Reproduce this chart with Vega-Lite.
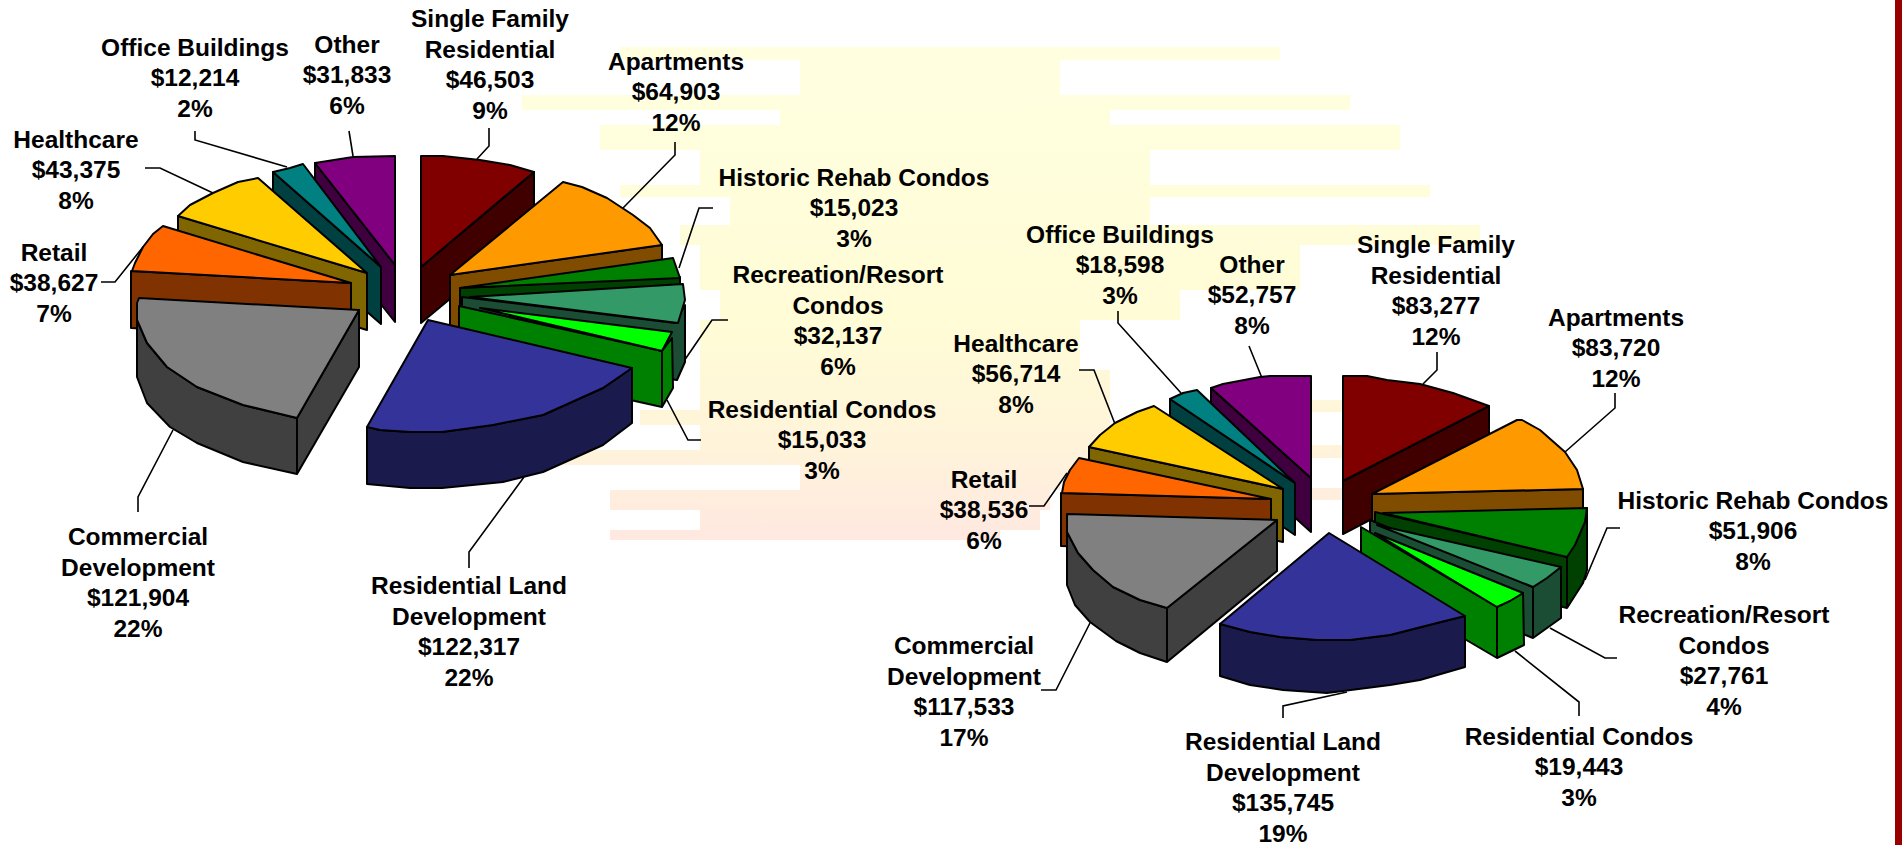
{
"$schema":"https://vega.github.io/schema/vega-lite/v6.json",
"width":1902,"height":845,"padding":0,"autosize":{"type":"none"},"background":"white","view":{"stroke":null},
"datasets":{
"decor":[{"pie":"Left","element":"Sun"},{"pie":"Left","element":"Edge"}],
"slices":[
{"pie":"Left","category":"Single Family Residential","amount":46503,"share":9,"label":"Single Family\nResidential\n$46,503\n9%"},
{"pie":"Left","category":"Apartments","amount":64903,"share":12,"label":"Apartments\n$64,903\n12%"},
{"pie":"Left","category":"Historic Rehab Condos","amount":15023,"share":3,"label":"Historic Rehab Condos\n$15,023\n3%"},
{"pie":"Left","category":"Recreation/Resort Condos","amount":32137,"share":6,"label":"Recreation/Resort\nCondos\n$32,137\n6%"},
{"pie":"Left","category":"Residential Condos","amount":15033,"share":3,"label":"Residential Condos\n$15,033\n3%"},
{"pie":"Left","category":"Other","amount":31833,"share":6,"label":"Other\n$31,833\n6%"},
{"pie":"Left","category":"Office Buildings","amount":12214,"share":2,"label":"Office Buildings\n$12,214\n2%"},
{"pie":"Left","category":"Healthcare","amount":43375,"share":8,"label":"Healthcare\n$43,375\n8%"},
{"pie":"Left","category":"Retail","amount":38627,"share":7,"label":"Retail\n$38,627\n7%"},
{"pie":"Left","category":"Commercial Development","amount":121904,"share":22,"label":"Commercial\nDevelopment\n$121,904\n22%"},
{"pie":"Left","category":"Residential Land Development","amount":122317,"share":22,"label":"Residential Land\nDevelopment\n$122,317\n22%"},
{"pie":"Right","category":"Single Family Residential","amount":83277,"share":12,"label":"Single Family\nResidential\n$83,277\n12%"},
{"pie":"Right","category":"Apartments","amount":83720,"share":12,"label":"Apartments\n$83,720\n12%"},
{"pie":"Right","category":"Historic Rehab Condos","amount":51906,"share":8,"label":"Historic Rehab Condos\n$51,906\n8%"},
{"pie":"Right","category":"Recreation/Resort Condos","amount":27761,"share":4,"label":"Recreation/Resort\nCondos\n$27,761\n4%"},
{"pie":"Right","category":"Residential Condos","amount":19443,"share":3,"label":"Residential Condos\n$19,443\n3%"},
{"pie":"Right","category":"Other","amount":52757,"share":8,"label":"Other\n$52,757\n8%"},
{"pie":"Right","category":"Office Buildings","amount":18598,"share":3,"label":"Office Buildings\n$18,598\n3%"},
{"pie":"Right","category":"Healthcare","amount":56714,"share":8,"label":"Healthcare\n$56,714\n8%"},
{"pie":"Right","category":"Retail","amount":38536,"share":6,"label":"Retail\n$38,536\n6%"},
{"pie":"Right","category":"Commercial Development","amount":117533,"share":17,"label":"Commercial\nDevelopment\n$117,533\n17%"},
{"pie":"Right","category":"Residential Land Development","amount":135745,"share":19,"label":"Residential Land\nDevelopment\n$135,745\n19%"}
]},
"resolve":{"scale":{"x":"independent","y":"independent","color":"independent","shape":"independent"}},
"layer":[
{"data":{"name":"decor"},"transform":[{"filter":"datum.element==='Sun'"}],
"mark":{"type":"point","filled":true,"size":4,"opacity":1,"strokeWidth":0,"fill":{"gradient":"linear","x1":0,"y1":0,"x2":0,"y2":1,"stops":[{"offset":0,"color":"#FFFFE0"},{"offset":0.55,"color":"#FFFCD6"},{"offset":0.8,"color":"#FFF4DA"},{"offset":1,"color":"#FFE8E0"}]}},
"encoding":{"x":{"field":"pie","type":"nominal","axis":null,"scale":{"domain":["Left","Right"],"range":[0,900],"padding":0}},"y":{"field":"pie","type":"nominal","axis":null,"scale":{"domain":["Left","Right"],"range":[0,200],"padding":0}},
"shape":{"field":"element","type":"nominal","legend":null,"scale":{"domain":["Sun"],"range":["M620,47H1280V60H620Z M800,60H1060V95H800Z M522,95H1350V110H522Z M780,110H1110V125H780Z M600,125H1400V150H600Z M700,150H1150V185H700Z M620,185H1430V197H620Z M730,197H1150V225H730Z M680,225H1480V245H680Z M700,245H1300V290H700Z M720,290H1180V320H720Z M700,320H1080V410H700Z M640,410H1080V425H640Z M700,425H1070V450H700Z M520,450H1060V465H520Z M800,465H1060V490H800Z M610,490H1050V510H610Z M700,510H1040V530H700Z M610,530H1000V540H610Z M1060,370H1110V480H1060Z M1300,400H1345V412H1300Z M1300,445H1345V458H1300Z M1300,488H1345V500H1300Z"]}}}},
{"data":{"name":"decor"},"transform":[{"filter":"datum.element==='Edge'"}],
"mark":{"type":"point","filled":true,"size":4,"opacity":1,"strokeWidth":0,"fill":"#990000"},
"encoding":{"x":{"field":"pie","type":"nominal","axis":null,"scale":{"domain":["Left","Right"],"range":[0,900],"padding":0}},"y":{"field":"pie","type":"nominal","axis":null,"scale":{"domain":["Left","Right"],"range":[0,200],"padding":0}},
"shape":{"field":"element","type":"nominal","legend":null,"scale":{"domain":["Edge"],"range":["M1895,0H1902V845H1895Z"]}}}},
{"data":{"name":"slices"},
"mark":{"type":"point","filled":false,"size":4,"opacity":1,"stroke":"black","strokeWidth":1.6},
"encoding":{"x":{"field":"pie","type":"nominal","axis":null,"scale":{"domain":["Left","Right"],"range":[0,900],"padding":0}},"y":{"field":"pie","type":"nominal","axis":null,"scale":{"domain":["Left","Right"],"range":[0,200],"padding":0}},
"shape":{"field":"amount","type":"nominal","legend":null,"scale":{"domain":[46503,64903,15023,32137,15033,31833,12214,43375,38627,121904,122317,83277,83720,51906,27761,19443,52757,18598,56714,38536,117533,135745],
"range":["M477,159L489,146L489,128","M623,208L675,155L675,142","M713,208L699,208L679,268","M728,320L712,320L684,361","M701,440L688,440L667,400","M349,131L353,156","M195,131L195,140L287,167","M145,168L160,168L213,193","M101,282L115,282L143,247","M173,430L138,497L138,512","M524,477L469,552L469,568",
"M523,184L537,170L537,152","M665,252L715,208L715,193","M685,380L707,328L720,328","M650,428L705,458L717,458","M615,451L679,502L679,516","M349,146L362,178","M218,111L218,123L281,193","M179,170L194,170L215,224","M129,306L144,306L167,273","M141,490L156,490L190,423","M383,518L383,506L447,492"]}}}},
{"data":{"name":"slices"},
"mark":{"type":"point","filled":true,"size":4,"opacity":1,"stroke":"black","strokeWidth":2,"strokeJoin":"round"},
"encoding":{"x":{"field":"pie","type":"nominal","axis":null,"scale":{"domain":["Left","Right"],"range":[0,900],"padding":0}},"y":{"field":"pie","type":"nominal","axis":null,"scale":{"domain":["Left","Right"],"range":[0,200],"padding":0}},
"color":{"field":"category","type":"nominal","legend":null,"scale":{"domain":["Single Family Residential","Apartments","Historic Rehab Condos","Recreation/Resort Condos","Residential Condos","Residential Land Development","Commercial Development","Retail","Healthcare","Office Buildings","Other"],"range":["#400000","#804D00","#004000","#1A4D33","#008000","#1A1A4D","#404040","#803300","#806600","#004040","#400040"]}},
"shape":{"field":"amount","type":"nominal","legend":null,"scale":{"domain":[46503,64903,15023,32137,15033,31833,12214,43375,38627,121904,122317,83277,83720,51906,27761,19443,52757,18598,56714,38536,117533,135745],
"range":["M421,267L534,172L534,229L421,323Z","M450,275L662,245L662,302L450,332Z","M460,288L680,277L680,334L460,345Z","M462,297L675,323L685,305L685,362L677,380L462,354Z","M459,306L662,351L672,338L673,388L662,407L459,362Z M662,351L662,407","M315,163L395,265L395,322L315,221Z","M273,172L381,267L381,324L273,230Z","M178,216L367,273L367,330L178,273Z","M131,271L351,283L351,341L131,328Z","M359,310L359,367L297,474L243,462L197,443L170,427L147,403L137,377L137,320L147,343L167,367L197,387L243,405L297,418Z M297,418L297,474","M367,427L380,430L410,432L442,432L493,425L543,415L603,388L632,368L632,423L603,445L543,472L503,482L442,488L410,488L367,484Z",
"M443,281L589,206L589,258L443,334Z","M472,294L683,289L683,341L472,346Z","M475,312L667,357L687,308L687,370L683,383L667,408L475,360Z M667,357L667,408","M470,320L633,387L661,367L661,418L633,438L470,371Z M633,387L633,438","M461,327L597,407L623,393L624,445L597,458L461,378Z M597,407L597,458","M311,188L411,278L411,332L311,242Z","M270,199L395,283L395,335L270,250Z","M189,247L383,289L383,342L189,300Z","M161,293L371,299L371,352L161,346Z","M377,320L377,371L267,462L240,453L216,441L190,422L175,405L167,385L167,332L178,353L193,370L213,387L240,400L267,408Z M267,408L267,462","M320,424L350,432L380,437L417,440L450,440L490,435L537,423L565,416L565,467L520,480L490,485L443,491L427,493L383,490L350,485L320,476Z"]}}}},
{"data":{"name":"slices"},
"mark":{"type":"point","filled":true,"size":4,"opacity":1,"stroke":"black","strokeWidth":2,"strokeJoin":"round"},
"encoding":{"x":{"field":"pie","type":"nominal","axis":null,"scale":{"domain":["Left","Right"],"range":[0,900],"padding":0}},"y":{"field":"pie","type":"nominal","axis":null,"scale":{"domain":["Left","Right"],"range":[0,200],"padding":0}},
"color":{"field":"category","type":"nominal","legend":null,"scale":{"domain":["Single Family Residential","Apartments","Historic Rehab Condos","Recreation/Resort Condos","Residential Condos","Residential Land Development","Commercial Development","Retail","Healthcare","Office Buildings","Other"],"range":["#800000","#FF9900","#008000","#339966","#00FF00","#333399","#808080","#FF6600","#FFCC00","#008080","#800080"]}},
"shape":{"field":"amount","type":"nominal","legend":null,"scale":{"domain":[46503,64903,15023,32137,15033,31833,12214,43375,38627,121904,122317,83277,83720,51906,27761,19443,52757,18598,56714,38536,117533,135745],
"range":["M421,156L443,156L480,160L510,165L534,172L421,267Z","M450,275L563,182L582,187L607,198L633,215L650,228L662,245Z","M460,288L673,258L680,278Z","M470,297L683,284L685,300L678,323Z","M480,308L672,332L662,351Z","M315,163L353,157L395,156L395,265Z","M273,172L290,168L303,164L381,267Z","M178,216L190,205L213,193L238,182L258,178L367,273Z","M132,271L135,263L143,247L153,234L163,226L351,283Z","M139,298L359,310L297,418L243,405L197,387L167,367L147,343L137,320L137,303Z","M367,427L428,320L632,368L603,388L543,415L493,425L442,432L410,432L380,430Z",
"M443,176L467,176L487,180L520,184L553,193L589,206L443,281Z","M472,294L617,220L622,220L640,230L665,252L677,270L683,289Z","M483,313L687,308L685,322L675,345L667,357Z","M477,325L661,367L647,378L633,387Z","M475,333L623,393L610,401L597,407Z","M311,188L323,184L360,177L370,176L411,176L411,278Z","M270,199L283,193L297,190L395,283Z","M189,247L200,235L215,223L237,212L254,206L383,289Z","M162,293L164,282L170,270L179,258L371,299Z","M167,314L377,320L267,408L240,400L213,387L193,370L178,353L167,332Z","M320,424L350,432L380,437L417,440L450,440L490,435L537,423L565,416L429,333Z"]}}}},
{"data":{"name":"slices"},
"mark":{"type":"text","font":"Liberation Sans","fontWeight":"bold","fontSize":24.5,"lineBreak":"\n","lineHeight":30.5,"align":"center","baseline":"middle","color":"black"},
"encoding":{"text":{"field":"label","type":"nominal"},
"x":{"field":"amount","type":"quantitative","axis":null,"scale":{"type":"linear","nice":false,"zero":false,
"domain":[12214,15023,15033,18598,19443,27761,31833,32137,38536,38627,43375,46503,51906,52757,56714,64903,83277,83720,117533,121904,122317,135745],
"range":[195,854,822,1120,1579,1724,347,838,984,54,76,490,1753,1252,1016,676,1436,1616,964,138,469,1283]}},
"y":{"field":"amount","type":"quantitative","axis":null,"scale":{"type":"linear","nice":false,"zero":false,
"domain":[12214,15023,15033,18598,19443,27761,31833,32137,38536,38627,43375,46503,51906,52757,56714,64903,83277,83720,117533,121904,122317,135745],
"range":[48.5,178.5,410.5,235.5,737.5,616,45.5,276,480.5,253.5,140.5,20,501.5,265.5,344.5,62.5,246,318.5,647,538,587,743]}}}}
]
}
